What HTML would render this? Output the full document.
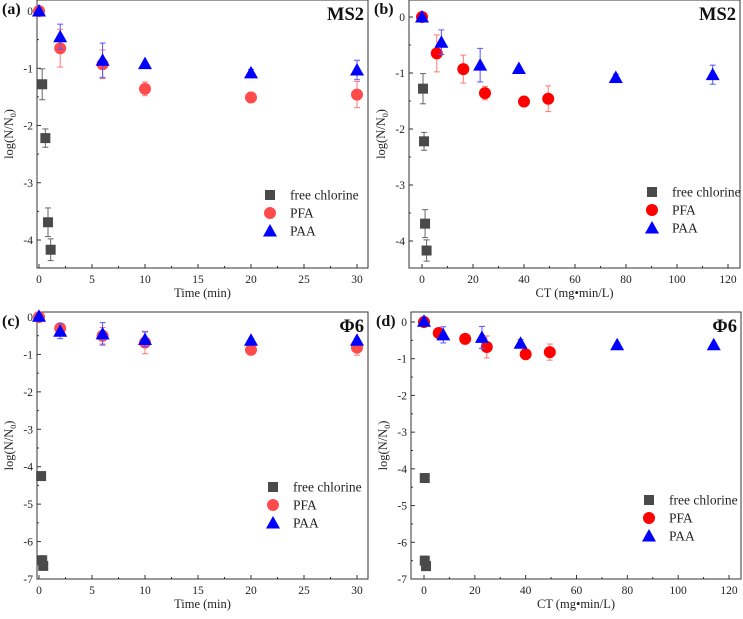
<!DOCTYPE html>
<html><head><meta charset="utf-8">
<style>
html,body{margin:0;padding:0;background:#fff;}
svg{display:block;font-family:"Liberation Serif",serif;}
</style></head>
<body>
<svg id="fig" width="743" height="619" viewBox="0 0 743 619" xmlns="http://www.w3.org/2000/svg"></svg>
<script>
// ---- data ----
const aClX=[0.3,0.6,0.85,1.1], aClY=[-1.28,-2.22,-3.69,-4.17], aClE=[0.27,0.16,0.25,0.19];
const aPfaX=[0,2,6,10,20,30], aPfaY=[0,-0.65,-0.93,-1.36,-1.51,-1.46], aPfaE=[0,0.33,0.25,0.12,0.09,0.23];
const aPaaX=[0,2,6,10,20,30], aPaaY=[0,-0.45,-0.86,-0.92,-1.08,-1.03], aPaaE=[0,0.22,0.3,0.03,0.06,0.17];
const bClX=[0.4,0.8,1.2,1.8], bClY=[-1.28,-2.22,-3.69,-4.17], bClE=[0.27,0.16,0.25,0.19];
const bPfaX=[0,5.8,16.2,24.7,40,49.5], bPfaY=[0,-0.65,-0.93,-1.36,-1.51,-1.46], bPfaE=[0,0.33,0.25,0.12,0.09,0.23];
const bPaaX=[0,7.6,22.8,38,76,114], bPaaY=[0,-0.45,-0.86,-0.92,-1.08,-1.03], bPaaE=[0,0.22,0.3,0.03,0.06,0.17];
const cClX=[0.2,0.3,0.4], cClY=[-4.25,-6.5,-6.65], cClE=[0.08,0.12,0.05];
const cPfaX=[0,2,6,10,20,30], cPfaY=[0,-0.3,-0.5,-0.68,-0.88,-0.82], cPfaE=[0,0.12,0.22,0.3,0.05,0.2];
const cPaaX=[0,2,6,10,20,30], cPaaY=[0.02,-0.38,-0.45,-0.6,-0.62,-0.62], cPaaE=[0,0.2,0.3,0.2,0.05,0.05];
const dClX=[0.3,0.3,0.8], dClY=[-4.25,-6.5,-6.65], dClE=[0.08,0.12,0.05];
const dPfaX=[0,5.8,16.2,24.7,40,49.5], dPfaY=[0,-0.3,-0.46,-0.68,-0.88,-0.82], dPfaE=[0,0.05,0.05,0.3,0.05,0.22];
const dPaaX=[0,7.6,22.8,38,76,114], dPaaY=[0.02,-0.35,-0.42,-0.58,-0.62,-0.62], dPaaE=[0,0.22,0.3,0.1,0.05,0.05];
const timeTicks=[0,5,10,15,20,25,30];
const ctTicks=[0,20,40,60,80,100,120];
const msTicks=[0,-1,-2,-3,-4];
const phiTicks=[0,-1,-2,-3,-4,-5,-6,-7];

const NS="http://www.w3.org/2000/svg";
const svg=document.getElementById('fig');
function mk(tag,attrs,parent,text){
  const e=document.createElementNS(NS,tag);
  for(const k in attrs)e.setAttribute(k,attrs[k]);
  if(text!==undefined)e.textContent=text;
  (parent||svg).appendChild(e);return e;
}
function panel(p){
  const g=mk('g',{});
  
  
  const sx=v=>p.x0+(v-p.xmin)/(p.xmax-p.xmin)*(p.x1-p.x0);
  const sy=v=>p.y0+(v-p.ymax)/(p.ymin-p.ymax)*(p.y1-p.y0);
  const box=mk('rect',{x:p.bl,y:p.bt,width:p.br-p.bl,height:p.bb-p.bt,fill:'none',stroke:'#333','stroke-width':1},g);
  
  
  const xstep=p.xt[1]-p.xt[0];
  p.xt.forEach((t,i)=>{
    const X=sx(t);
    mk('line',{x1:X,y1:p.bb,x2:X,y2:p.bb-4,stroke:'#333'},g);
    if(i<p.xt.length-1){const m=sx(t+xstep/2);mk('line',{x1:m,y1:p.bb,x2:m,y2:p.bb-2,stroke:'#333'},g);}
    const tl=mk('text',{x:X,y:p.bb+15,'font-size':11.5,'text-anchor':'middle',fill:'#222'},g,String(t));
    
    
  });
  p.yt.forEach((t,i)=>{
    const Y=sy(t);
    mk('line',{x1:p.bl,y1:Y,x2:p.bl+4,y2:Y,stroke:'#333'},g);
    const m=sy(t-0.5); if(m<p.bb) mk('line',{x1:p.bl,y1:m,x2:p.bl+2,y2:m,stroke:'#333'},g);
    const tl=mk('text',{x:p.bl-4,y:Y+4,'font-size':11.5,'text-anchor':'end',fill:'#222'},g,String(t));
    
    
  });
  const yt=mk('text',{x:0,y:0,'font-size':12.5,'text-anchor':'middle',fill:'#222',transform:`translate(${p.bl-24},${(p.bt+p.bb)/2}) rotate(-90)`},g);
  
  
  yt.innerHTML='log(N/N<tspan font-size="8" dy="3">0</tspan><tspan dy="-3">)</tspan>';
  const xt=mk('text',{x:(p.bl+p.br)/2,y:p.bb+29,'font-size':12.5,'text-anchor':'middle',fill:'#222'},g,p.xtitle);
  
  
  const lt=mk('text',{x:p.bl-35,y:p.bt+14,'font-size':16,'font-weight':'bold',fill:'#111'},g,p.letter);
  
  
  const vt=mk('text',{x:p.br-4,y:p.bt+20,'font-size':18.5,'font-weight':'bold','text-anchor':'end',fill:'#111'},g,p.virus);
  
  
  function marker(kind,X,Y,col,parent){
    if(kind==='sq') return mk('rect',{x:X-5,y:Y-5,width:10,height:10,fill:col},parent);
    if(kind==='ci') return mk('circle',{cx:X,cy:Y,r:6,fill:col},parent);
    return mk('polygon',{points:`${X},${Y-7} ${X+7},${Y+5.5} ${X-7},${Y+5.5}`,fill:col},parent);
  }
  function series(name,xs,ys,es,kind,col,ecol){
    const sg=mk('g',{},g);
    
    
    xs.forEach((v,i)=>{
      const X=sx(v),Y=sy(ys[i]),e=es[i];
      if(e>0){
        const ya=sy(ys[i]+e),yb=sy(ys[i]-e);
        mk('line',{x1:X,y1:ya,x2:X,y2:yb,stroke:ecol,'stroke-width':1},sg);
        mk('line',{x1:X-3,y1:ya,x2:X+3,y2:ya,stroke:ecol},sg);
        mk('line',{x1:X-3,y1:yb,x2:X+3,y2:yb,stroke:ecol},sg);
      }
      const m=marker(kind,X,Y,col,sg);
      
      
    });
  }
  series('free-chlorine',p.cl[0],p.cl[1],p.cl[2],'sq','#4a4a4a','#666');
  series('pfa',p.pf[0],p.pf[1],p.pf[2],'ci',p.red,'#f77');
  series('paa',p.pa[0],p.pa[1],p.pa[2],'tr','#0000ff','#55f');
  const names=['free chlorine','PFA','PAA'],kinds=['sq','ci','tr'],cols=['#4a4a4a',p.red,'#0000ff'];
  const lg=mk('g',{},g);
  
  
  names.forEach((n,i)=>{
    const Y=p.ly+i*18;
    marker(kinds[i],p.lx,Y,cols[i],lg);
    const t=mk('text',{x:p.lx+20,y:Y+4.5,'font-size':13.5,fill:'#222'},lg,n);
    
    
  });
}
panel({id:'a',letter:'(a)',virus:'MS2',xtitle:'Time (min)',bl:37,br:368,bt:0,bb:268,
  x0:39,x1:357,xmin:0,xmax:30,y0:11,y1:240,ymax:0,ymin:-4,xt:timeTicks,yt:msTicks,
  cl:[aClX,aClY,aClE],pf:[aPfaX,aPfaY,aPfaE],pa:[aPaaX,aPaaY,aPaaE],red:'#ff4b4b',lx:270,ly:195});
panel({id:'b',letter:'(b)',virus:'MS2',xtitle:'CT (mg•min/L)',bl:409,br:740,bt:0,bb:268,
  x0:422,x1:728,xmin:0,xmax:120,y0:17,y1:241,ymax:0,ymin:-4,xt:ctTicks,yt:msTicks,
  cl:[bClX,bClY,bClE],pf:[bPfaX,bPfaY,bPfaE],pa:[bPaaX,bPaaY,bPaaE],red:'#ff0000',lx:652,ly:192});
panel({id:'c',letter:'(c)',virus:'Φ6',xtitle:'Time (min)',bl:37,br:368,bt:312,bb:579,
  x0:39,x1:357,xmin:0,xmax:30,y0:317,y1:579,ymax:0,ymin:-7,xt:timeTicks,yt:phiTicks,
  cl:[cClX,cClY,cClE],pf:[cPfaX,cPfaY,cPfaE],pa:[cPaaX,cPaaY,cPaaE],red:'#ff4b4b',lx:273,ly:487});
panel({id:'d',letter:'(d)',virus:'Φ6',xtitle:'CT (mg•min/L)',bl:411,br:741,bt:312,bb:579,
  x0:424,x1:729,xmin:0,xmax:120,y0:322,y1:579,ymax:0,ymin:-7,xt:ctTicks,yt:phiTicks,
  cl:[dClX,dClY,dClE],pf:[dPfaX,dPfaY,dPfaE],pa:[dPaaX,dPaaY,dPaaE],red:'#ff0000',lx:649,ly:500});
</script>
</body></html>
